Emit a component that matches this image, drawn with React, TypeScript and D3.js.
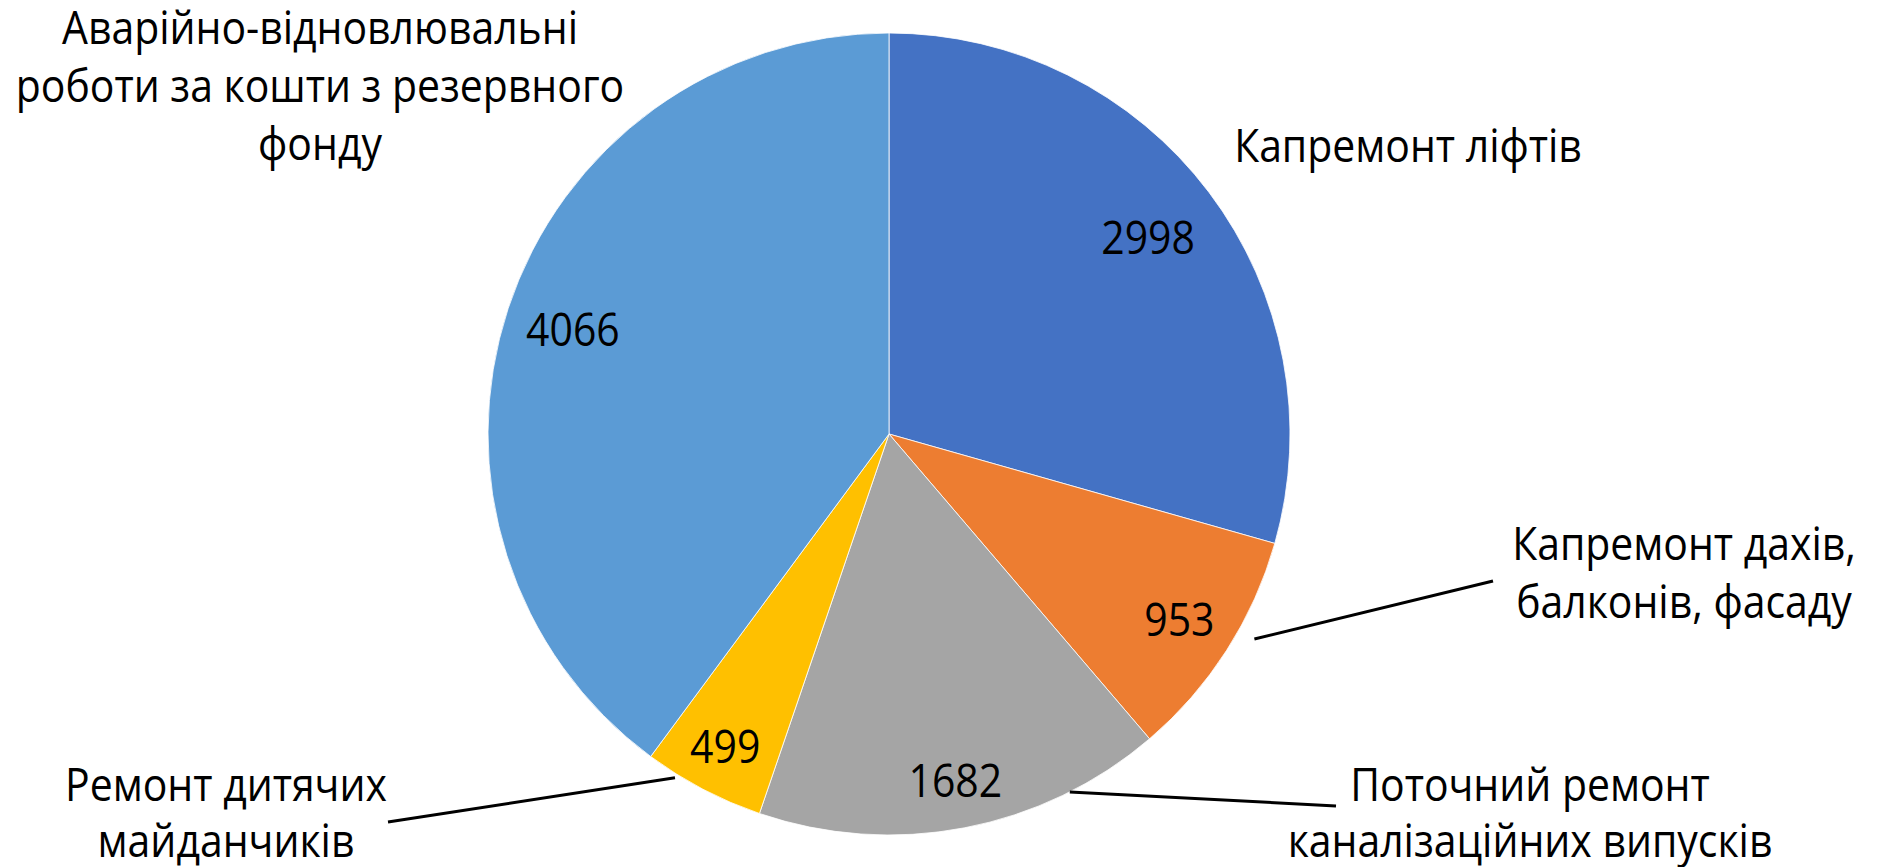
import React from "react";
import * as d3 from "d3";

const categories = [
  "Капремонт ліфтів",
  "Капремонт дахів, балконів, фасаду",
  "Поточний ремонт каналізаційних випусків",
  "Ремонт дитячих майданчиків",
  "Аварійно-відновлювальні роботи за кошти з резервного фонду",
];
const values = [2998, 953, 1682, 499, 4066];
const colors = ["#4472C4", "#ED7D31", "#A5A5A5", "#FFC000", "#5B9BD5"];
const labelLines = [
  ["Капремонт ліфтів"],
  ["Капремонт дахів,", "балконів, фасаду"],
  ["Поточний ремонт", "каналізаційних випусків"],
  ["Ремонт дитячих", "майданчиків"],
  ["Аварійно-відновлювальні", "роботи за кошти з резервного", "фонду"],
];

// layout (not data)
const W = 1891;
const H = 867;
const CX = 889;
const CY = 434;
const R = 401;
const FONT = 46;
const SX = 0.89;
const valueRadius = [0.81, 0.86, 0.88, 0.88, 0.83];
const catLabelPos = [
  { x: 1408, y: 162, lh: 58 },
  { x: 1684, y: 560, lh: 58 },
  { x: 1530, y: 801, lh: 56 },
  { x: 226, y: 801, lh: 56 },
  { x: 320, y: 44, lh: 58 },
];
const leaders: ({ a: number; r: number; ex: number; ey: number } | null)[] = [
  null,
  { a: 119.3, r: 419, ex: 1493, ey: 581 },
  { a: 153.2, r: 401, ex: 1336, ey: 806 },
  { a: 211.9, r: 405, ex: 388, ey: 822 },
  null,
];

const fontFamily = "'Open Sans', 'Noto Sans', sans-serif";

function Txt({ x, y, children }: { x: number; y: number; children: string }) {
  return (
    <text
      transform={`translate(${x},${y}) scale(${SX},1)`}
      textAnchor="middle"
      fontFamily={fontFamily}
      fontSize={FONT}
      fill="#000"
    >
      {children}
    </text>
  );
}

export default function App() {
  const pie = d3.pie<number>().sort(null).value((d) => d)(values);
  const arc = d3.arc<d3.PieArcDatum<number>>().innerRadius(0).outerRadius(R);
  const polar = (angDeg: number, r: number) => {
    const a = (angDeg * Math.PI) / 180;
    return [CX + r * Math.sin(a), CY - r * Math.cos(a)];
  };
  return (
    <svg
      width={W}
      height={H}
      style={{ position: "absolute", left: 0, top: 0, display: "block", background: "#fff" }}
    >
      <g transform={`translate(${CX},${CY})`}>
        {pie.map((p, i) => (
          <path key={categories[i]} d={arc(p) || ""} fill={colors[i]} stroke="#fff" strokeWidth={0.8} />
        ))}
      </g>
      {leaders.map((l, i) => {
        if (!l) return null;
        const [sx, sy] = polar(l.a, l.r);
        return <line key={i} x1={sx} y1={sy} x2={l.ex} y2={l.ey} stroke="#000" strokeWidth={3} />;
      })}
      {pie.map((p, i) => {
        const mid = (p.startAngle + p.endAngle) / 2;
        const r = R * valueRadius[i];
        const x = CX + r * Math.sin(mid);
        const y = CY - r * Math.cos(mid) + FONT * 0.35;
        return <Txt key={"v" + i} x={x} y={y}>{String(values[i])}</Txt>;
      })}
      {labelLines.map((lines, i) =>
        lines.map((ln, j) => (
          <Txt key={"c" + i + "-" + j} x={catLabelPos[i].x} y={catLabelPos[i].y + j * catLabelPos[i].lh}>
            {ln}
          </Txt>
        ))
      )}
    </svg>
  );
}
